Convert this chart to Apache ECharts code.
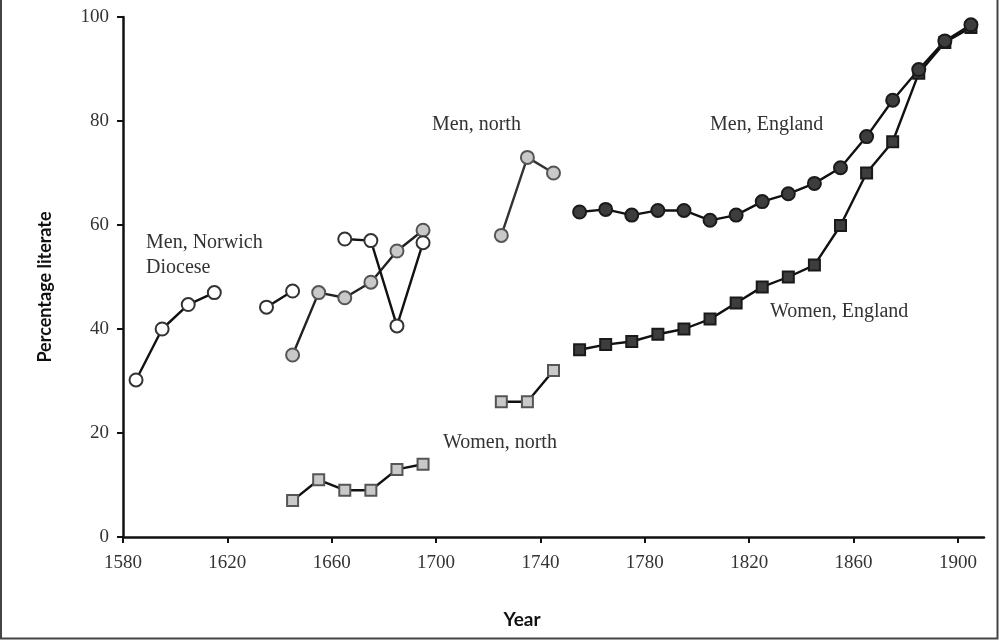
<!DOCTYPE html>
<html>
<head>
<meta charset="utf-8">
<script src="https://cdn.jsdelivr.net/npm/echarts@6/dist/echarts.min.js"></script>
<style>
html,body{margin:0;padding:0;background:#fff;}
#chart{width:1000px;height:640px;}
</style>
</head>
<body>
<div id="chart"></div>
<script>
// ---- Data ----
const xTicks = [1580, 1620, 1660, 1700, 1740, 1780, 1820, 1860, 1900];

const menNorwichYearsA = [1585, 1595, 1605, 1615];
const menNorwichValsA  = [30.2, 40.0, 44.7, 47.0];
const menNorwichYearsB = [1635, 1645];
const menNorwichValsB  = [44.2, 47.3];
const menNorwichYearsC = [1665, 1675, 1685, 1695];
const menNorwichValsC  = [57.3, 57.0, 40.6, 56.6];

const menNorthYearsA = [1645, 1655, 1665, 1675, 1685, 1695];
const menNorthValsA  = [35.0, 47.0, 46.0, 49.0, 55.0, 59.0];
const menNorthYearsB = [1725, 1735, 1745];
const menNorthValsB  = [58.0, 73.0, 70.0];

const womenNorthYearsA = [1645, 1655, 1665, 1675, 1685, 1695];
const womenNorthValsA  = [7.0, 11.0, 9.0, 9.0, 13.0, 14.0];
const womenNorthYearsB = [1725, 1735, 1745];
const womenNorthValsB  = [26.0, 26.0, 32.0];

const englandYears = [1755, 1765, 1775, 1785, 1795, 1805, 1815, 1825, 1835, 1845, 1855, 1865, 1875, 1885, 1895, 1905];
const menEnglandVals   = [62.5, 63.0, 61.9, 62.8, 62.8, 60.9, 61.9, 64.5, 66.0, 68.0, 71.0, 77.0, 84.0, 89.9, 95.4, 98.5];
const womenEnglandVals = [36.0, 37.0, 37.6, 39.0, 40.0, 41.9, 45.0, 48.1, 50.0, 52.3, 59.9, 70.0, 76.0, 89.2, 95.1, 98.0];

// ---- Helpers ----
function pairs(xs, ys) { return xs.map((x, i) => [x, ys[i]]); }
function mk(name, xs, ys, symbol, size, fill, stroke, lineColor) {
  return {
    name: name, type: 'line', data: pairs(xs, ys),
    symbol: symbol, symbolSize: size, showAllSymbol: true,
    lineStyle: { color: lineColor, width: 2.4 },
    itemStyle: { color: fill, borderColor: stroke, borderWidth: 2 },
    emphasis: { disabled: true }, z: 3
  };
}
const serif = '"Liberation Serif", "DejaVu Serif", serif';
const WHITE = '#ffffff', LIGHT = '#c9c9c9', DARK = '#3d3d3d';

const chart = echarts.init(document.getElementById('chart'), null, { renderer: 'canvas' });
chart.setOption({
  animation: false,
  backgroundColor: '#ffffff',
  grid: { left: 123, right: 16, top: 17, bottom: 103, containLabel: false },
  xAxis: {
    type: 'value', min: 1580, max: 1910,
    axisLine: { show: true, onZero: false, lineStyle: { color: '#111', width: 2.5 } },
    axisTick: { show: true, length: 6, lineStyle: { color: '#111', width: 2 }, customValues: xTicks },
    axisLabel: { customValues: xTicks, color: '#333', fontFamily: serif, fontSize: 19, margin: 17,
      formatter: v => String(v) },
    splitLine: { show: false }
  },
  yAxis: {
    type: 'value', min: 0, max: 100, interval: 20,
    axisLine: { show: true, lineStyle: { color: '#111', width: 2.5 } },
    axisTick: { show: true, length: 6, lineStyle: { color: '#111', width: 2 } },
    axisLabel: { color: '#333', fontFamily: serif, fontSize: 19, margin: 14 },
    splitLine: { show: false }
  },
  series: [
    mk('Men, Norwich Diocese', menNorwichYearsA, menNorwichValsA, 'circle', 13, WHITE, '#333', '#111'),
    mk('Men, Norwich Diocese', menNorwichYearsB, menNorwichValsB, 'circle', 13, WHITE, '#333', '#111'),
    mk('Men, north', menNorthYearsA, menNorthValsA, 'circle', 13, LIGHT, '#555', '#222'),
    mk('Men, Norwich Diocese', menNorwichYearsC, menNorwichValsC, 'circle', 13, WHITE, '#333', '#111'),
    mk('Men, north', menNorthYearsB, menNorthValsB, 'circle', 13, LIGHT, '#555', '#333'),
    mk('Women, north', womenNorthYearsA, womenNorthValsA, 'rect', 11, LIGHT, '#555', '#111'),
    mk('Women, north', womenNorthYearsB, womenNorthValsB, 'rect', 11, LIGHT, '#555', '#111'),
    mk('Women, England', englandYears, womenEnglandVals, 'rect', 11, DARK, '#1a1a1a', '#111'),
    mk('Men, England', englandYears, menEnglandVals, 'circle', 13, DARK, '#1a1a1a', '#111')
  ],
  graphic: [
    { type: 'polyline', silent: true, z: 10,
      shape: { points: [[1, 0], [1, 638.5], [997.5, 638.5], [997.5, 0]] },
      style: { stroke: '#444', lineWidth: 2, fill: null } },
    { type: 'text', x: 146, y: 243, silent: true,
      style: { text: 'Men, Norwich', font: '20px ' + serif, fill: '#333', verticalAlign: 'middle' } },
    { type: 'text', x: 146, y: 268, silent: true,
      style: { text: 'Diocese', font: '20px ' + serif, fill: '#333', verticalAlign: 'middle' } },
    { type: 'text', x: 432, y: 125, silent: true,
      style: { text: 'Men, north', font: '20px ' + serif, fill: '#333', verticalAlign: 'middle' } },
    { type: 'text', x: 710, y: 125, silent: true,
      style: { text: 'Men, England', font: '20px ' + serif, fill: '#333', verticalAlign: 'middle' } },
    { type: 'text', x: 770, y: 312, silent: true,
      style: { text: 'Women, England', font: '20px ' + serif, fill: '#333', verticalAlign: 'middle' } },
    { type: 'text', x: 443, y: 443, silent: true,
      style: { text: 'Women, north', font: '20px ' + serif, fill: '#333', verticalAlign: 'middle' } },
    { type: 'text', x: 45, y: 287, rotation: Math.PI / 2, silent: true,
      style: { text: 'Percentage literate', font: 'bold 18px Lato, "Open Sans", sans-serif', fill: '#101010',
        align: 'center', verticalAlign: 'middle' } },
    { type: 'text', x: 522, y: 620, silent: true,
      style: { text: 'Year', font: 'bold 19px Lato, "Open Sans", sans-serif', fill: '#101010',
        align: 'center', verticalAlign: 'middle' } }
  ]
});
</script>
</body>
</html>
